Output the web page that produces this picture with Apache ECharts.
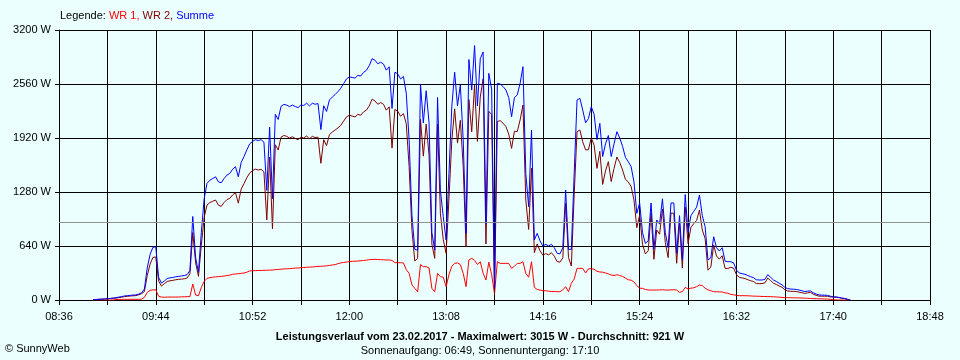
<!DOCTYPE html>
<html>
<head>
<meta charset="utf-8">
<script src="https://cdn.jsdelivr.net/npm/echarts@6/dist/echarts.min.js"></script>
<style>
    html, body { margin: 0; padding: 0; background: #ebffff; }
    #main { width: 960px; height: 360px; }
</style>
</head>
<body>
<div id="main"></div>
<script>
// x axis: minutes since 08:36, labels every 68 min, grid every 34 min
const xLabels = ['08:36', '09:44', '10:52', '12:00', '13:08', '14:16', '15:24', '16:32', '17:40', '18:48'];
const startOffset = 24; // first sample 09:00
const stepMin = 2;      // sampling interval of the readings
const average = 921;

// WR 1 (red)
const wr1 = [
    0, 0, 0, 0, 0, 0, 0, 0, 5, 7,
    7, 8, 8, 8, 8, 8, 8, 10, 30, 90,
    115, 120, 120, 45, 35, 32,
    35, 35, 35, 35, 35, 38, 38, 40, 40, 190, 60, 50, 150, 220, 257,
    265, 270, 275, 276, 280, 284, 290, 295, 305, 308, 312, 316, 320, 330, 345, 347, 348, 350, 350, 352,
    352, 355, 355, 360, 362, 365, 368, 370, 372, 375, 378, 380, 382, 385, 388, 390, 392, 395, 398, 400,
    402, 405, 410, 415, 420, 430, 440, 445, 450, 455,
    458, 460, 462, 465, 468, 472, 478, 480, 482, 480, 478, 476, 474, 474, 470,
    442, 442, 442, 440, 360, 316, 178, 138, 98, 420, 395, 395, 380, 138, 98, 316, 276, 270, 158, 300,
    400, 434, 440, 420, 316, 158, 474, 494, 470, 420, 454, 316, 237, 450, 300,
    79, 454, 434, 434, 434, 434, 375, 400, 434, 434, 454, 316, 270, 454, 150, 125, 118, 110, 110, 105,
    100, 100, 98, 98, 120, 158, 98, 198, 250, 375, 375, 375, 320, 370, 370, 365,
    340, 332, 330, 320, 310, 296, 290, 300, 290, 280, 260, 240, 235, 215, 170, 140, 138, 125, 118, 118,
    118, 118, 120, 122, 118, 118, 120, 122, 118, 90, 100, 150, 130, 140, 145, 158,
    178, 170, 140, 120, 110, 98, 98, 96, 95, 85, 80, 67, 62, 55, 51, 51, 51, 50, 48, 46,
    45, 44, 42, 42, 40, 40, 38, 36, 34, 30, 28, 28, 27, 26, 25, 25, 24, 22, 20, 18,
    16, 15, 14, 13, 12, 11, 8, 3, 0, 0, 0, 0, 0, 0
];

// WR 2 (dark red)
const wr2 = [
    5, 5, 8, 10, 12, 15, 18, 22, 22, 28, 33, 40, 43, 47, 50, 52, 62, 75, 100, 290,
    425, 505, 510, 225, 165, 193,
    220, 227, 233, 240, 245, 247, 252, 260, 310, 800, 440, 280, 650, 980, 1125,
    1155, 1170, 1185, 1124, 1110, 1156, 1190, 1205, 1245, 1272, 1148, 1314, 1380, 1450, 1505, 1533, 1552, 1540, 1550, 1518,
    948, 1695, 845, 1840, 1778, 1930, 1950, 1940, 1920, 1935, 1915, 1900, 1930, 1920, 1945, 1910, 1940, 1925, 1930, 1620,
    1900, 1830, 1960, 1990, 2015, 2040, 2070, 2120, 2170, 2190,
    2180, 2170, 2200, 2190, 2230, 2250, 2300, 2380, 2360, 2320, 2340, 2320, 2250, 2290, 1800,
    2258, 2238, 2178, 2210, 2090, 1584, 822, 462, 492, 2140, 1705, 2085, 1720, 662, 494, 2084, 1024, 717, 553, 1200,
    1891, 2266, 1860, 2130, 1584, 632, 2376, 1994, 2545, 1880, 2406, 2624, 663, 2236, 2200,
    60, 2114, 2126, 2096, 2056, 1966, 1797, 2000, 1996, 2134, 2311, 1184, 836, 1561, 561, 665, 582, 530, 550, 535,
    560, 520, 455, 449, 500, 1145, 502, 402, 1251, 1995, 2015, 1875, 1780, 1780, 1921, 1835,
    1560, 1762, 1370, 1530, 1640, 1404, 1560, 1695, 1630, 1540, 1430, 1399, 1345, 1185, 857, 1010, 662, 546, 582, 1032,
    482, 830, 780, 1078, 682, 502, 1030, 1028, 435, 910, 380, 1100, 670, 860, 905, 942,
    1066, 830, 729, 354, 390, 652, 522, 484, 525, 375, 374, 387, 378, 300, 269, 261, 254, 240, 228, 219,
    195, 193, 195, 203, 260, 230, 199, 184, 166, 150, 122, 107, 103, 102, 100, 93, 86, 78, 85, 90,
    69, 55, 46, 45, 45, 44, 37, 35, 35, 30, 22, 18, 8, 0
];

const font = "'Liberation Sans', Arial, sans-serif";

function toPoints(arr) {
    return arr.map((v, i) => [startOffset + i * stepMin, v]);
}
// Summe = WR 1 + WR 2
const summe = wr1.map((v, i) => v + wr2[i]);

const legendText = { fontSize: 11, fontWeight: 'normal', fontFamily: font };

const myChart = echarts.init(document.getElementById('main'));
const option = {
    backgroundColor: '#ebffff',
    animation: false,
    textStyle: { fontFamily: font },
    title: {
        left: 60,
        top: 10,
        padding: 0,
        text: '{a|Legende: }{r|WR 1, }{m|WR 2, }{b|Summe}',
        textStyle: {
            fontWeight: 'normal',
            rich: {
                a: Object.assign({ color: '#000' }, legendText),
                r: Object.assign({ color: '#ff0000' }, legendText),
                m: Object.assign({ color: '#800000' }, legendText),
                b: Object.assign({ color: '#0000ff' }, legendText)
            }
        }
    },
    grid: {
        left: 59,
        right: 30,
        top: 30,
        bottom: 60
    },
    xAxis: {
        type: 'value',
        min: 0,
        max: 612,
        interval: 34,
        axisLine: { lineStyle: { color: '#000', width: 1 } },
        axisTick: { show: true, length: 5, lineStyle: { color: '#000' } },
        axisLabel: {
            color: '#000',
            fontSize: 11,
            margin: 11,
            fontFamily: font,
            formatter: function (v) {
                if (v % 68 !== 0) return '';
                return xLabels[v / 68];
            }
        },
        splitLine: { show: true, lineStyle: { color: '#000', width: 1 } }
    },
    yAxis: {
        type: 'value',
        min: 0,
        max: 3200,
        interval: 640,
        axisLine: { show: true, lineStyle: { color: '#000', width: 1 } },
        axisTick: { show: true, length: 4, lineStyle: { color: '#000' } },
        axisLabel: {
            color: '#000',
            fontSize: 11,
            margin: 8,
            fontFamily: font,
            formatter: function (v) {
                return String(v) + ' W';
            }
        },
        splitLine: { show: true, lineStyle: { color: '#000', width: 1 } }
    },
    series: [
        {
            name: 'Durchschnitt',
            type: 'line',
            data: [],
            z: 1,
            markLine: {
                silent: true,
                symbol: 'none',
                label: { show: false },
                lineStyle: { color: '#909090', type: 'solid', width: 1 },
                data: [{ yAxis: average }]
            }
        },
        {
            name: 'WR 1',
            type: 'line',
            data: toPoints(wr1),
            showSymbol: false,
            lineStyle: { color: '#ff0000', width: 1 },
            z: 2
        },
        {
            name: 'WR 2',
            type: 'line',
            data: toPoints(wr2),
            showSymbol: false,
            lineStyle: { color: '#800000', width: 1 },
            z: 3
        },
        {
            name: 'Summe',
            type: 'line',
            data: toPoints(summe),
            showSymbol: false,
            lineStyle: { color: '#0000ff', width: 1 },
            z: 4
        }
    ],
    graphic: [
        {
            type: 'text',
            style: {
                text: 'Leistungsverlauf vom 23.02.2017 - Maximalwert: 3015 W - Durchschnitt: 921 W',
                x: 480, y: 337,
                textAlign: 'center', textVerticalAlign: 'middle',
                font: 'bold 11px ' + font,
                fill: '#000'
            }
        },
        {
            type: 'text',
            style: {
                text: 'Sonnenaufgang: 06:49, Sonnenuntergang: 17:10',
                x: 480, y: 351,
                textAlign: 'center', textVerticalAlign: 'middle',
                font: '11px ' + font,
                fill: '#000'
            }
        },
        {
            type: 'text',
            style: {
                text: '© SunnyWeb',
                x: 5, y: 349,
                textAlign: 'left', textVerticalAlign: 'middle',
                font: '11px ' + font,
                fill: '#000'
            }
        }
    ]
};
myChart.setOption(option);
</script>
</body>
</html>
